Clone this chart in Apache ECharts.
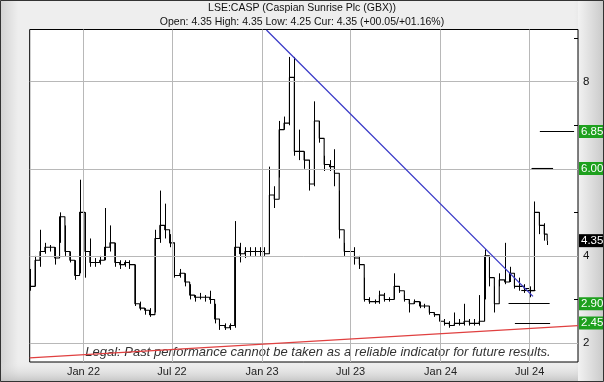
<!DOCTYPE html>
<html><head><meta charset="utf-8">
<script src="https://cdn.jsdelivr.net/npm/echarts@6/dist/echarts.min.js"></script>
<style>html,body{margin:0;padding:0;background:#fff}#c{width:604px;height:382px}</style>
</head><body><div id="c"></div>
<script>
const titleText = 'LSE:CASP (Caspian Sunrise Plc (GBX))';
const subText = 'Open: 4.35 High: 4.35 Low: 4.25 Cur: 4.35 (+00.05/+01.16%)';
const legalText = 'Legal: Past performance cannot be taken as a reliable indicator for future results.';

const dates = ['2021-09-14','2021-09-24','2021-10-04','2021-10-14','2021-10-24','2021-11-03','2021-11-13','2021-11-24','2021-12-04','2021-12-14','2021-12-24',
'2022-01-04','2022-01-14','2022-01-24','2022-02-03','2022-02-13','2022-02-24','2022-03-06','2022-03-16','2022-03-26','2022-04-05','2022-04-16','2022-04-26','2022-05-06','2022-05-16','2022-05-27','2022-06-06','2022-06-16','2022-06-26','2022-07-06','2022-07-17','2022-07-27','2022-08-06','2022-08-16','2022-08-27','2022-09-06','2022-09-16','2022-09-26','2022-10-06','2022-10-17','2022-10-27','2022-11-06','2022-11-16','2022-11-27','2022-12-07','2022-12-17','2022-12-27',
'2023-01-06','2023-01-16','2023-01-26','2023-02-05','2023-02-15','2023-02-26','2023-03-08','2023-03-18','2023-03-28','2023-04-08','2023-04-18','2023-04-28','2023-05-08','2023-05-19','2023-05-29','2023-06-08','2023-06-18','2023-06-29','2023-07-09','2023-07-19','2023-07-29','2023-08-08','2023-08-19','2023-08-29','2023-09-08','2023-09-18','2023-09-28','2023-10-09','2023-10-19','2023-10-29','2023-11-08','2023-11-19','2023-11-29','2023-12-09','2023-12-19','2023-12-30',
'2024-01-09','2024-01-19','2024-01-29','2024-02-08','2024-02-18','2024-02-29','2024-03-10','2024-03-20','2024-03-31','2024-04-10','2024-04-20','2024-04-30','2024-05-11','2024-05-21','2024-05-31','2024-06-10','2024-06-20','2024-07-01','2024-07-11','2024-07-21','2024-07-31','2024-08-06'];
const closes = [3.3,3.9,4.1,4.2,4.2,3.95,4.9,4.1,3.9,3.55,5.0,
4.1,3.85,3.85,3.9,4.2,4.3,3.85,3.8,3.85,3.8,2.9,2.8,2.75,2.65,4.4,4.7,4.6,4.3,3.55,3.6,3.4,3.1,3.05,3.05,3.05,3.0,2.55,2.4,2.35,2.4,4.2,4.05,4.1,4.1,4.1,4.1,
4.05,5.4,5.3,6.9,7.05,8.1,6.4,6.4,6.2,5.65,7.1,6.7,6.1,6.05,5.9,4.6,4.1,4.1,3.95,3.8,3.0,2.95,2.95,3.1,3.0,3.0,3.3,3.2,3.0,2.9,2.95,2.85,2.85,2.7,2.65,2.5,
2.45,2.4,2.45,2.45,2.5,2.45,2.45,2.5,4.0,3.5,2.9,3.45,3.4,3.6,3.3,3.3,3.25,3.2,5.0,4.7,4.5,4.35];
const lows = [3.2,3.3,3.75,4.05,4.1,3.8,4.3,4.0,3.85,3.45,3.6,
3.5,3.75,3.75,3.8,3.9,4.1,3.75,3.7,3.75,3.7,2.85,2.75,2.65,2.6,2.7,4.3,4.4,4.2,3.5,3.5,3.3,3.0,2.95,3.0,2.95,2.9,2.45,2.3,2.3,2.3,2.35,3.85,3.95,4.0,4.0,4.0,
4.0,4.1,5.1,5.8,6.9,7.0,6.3,6.2,6.0,5.5,5.6,6.6,5.95,5.95,5.6,4.4,4.0,2.6,3.8,3.7,2.95,2.9,2.9,2.9,2.95,2.95,3.0,3.15,2.95,2.7,2.9,2.8,2.8,2.65,2.6,2.3,
2.4,2.35,2.4,2.4,2.4,2.4,2.4,2.4,3.0,3.3,2.7,3.3,3.35,3.4,3.25,3.2,3.15,3.05,3.2,4.5,4.35,4.25];
const highs = [3.7,4.0,4.6,4.3,4.25,4.2,5.0,4.7,4.1,3.9,5.75,
5.0,4.4,3.95,4.0,5.1,4.7,4.3,3.9,3.9,3.9,3.8,2.95,2.8,2.8,4.6,5.5,5.2,4.5,4.3,3.7,3.6,3.35,3.1,3.15,3.1,3.2,2.9,2.5,2.45,2.45,4.8,4.3,4.2,4.2,4.2,4.2,
4.2,6.05,5.6,7.1,7.2,8.57,8.57,6.9,6.4,6.0,7.55,7.1,6.3,6.2,6.45,5.5,4.3,4.6,4.2,4.0,3.5,3.05,3.0,3.2,3.15,3.05,3.6,3.3,3.1,3.0,3.0,2.95,2.9,2.85,2.7,2.7,
2.55,2.5,2.7,2.55,2.9,2.55,2.55,3.1,4.15,4.0,3.3,3.6,4.3,3.75,3.45,3.5,3.35,3.3,5.25,5.0,4.75,4.35];

const xRange = ['2021-09-13','2024-10-08'];
const yRange = [1.563, 9.2];
const xLabelDates = ['2022-01-01','2022-07-01','2023-01-01','2023-07-01','2024-01-01','2024-07-01'];
const yTickValues = [2,3,4,5,6,7,8,9];
const yLabelValues = [2,4,8];
const yGridValues = [2,4,6,8];

const blueTrendDates = ['2023-01-10','2024-07-08'];
const blueTrendValues = [9.19, 3.07];
const redTrendDates = ['2021-09-13','2024-10-08'];
const redTrendValues = [1.66, 2.40];

const levelValues = [6.855, 6.007, 2.904, 2.455, 3.22];
const levelFrom = ['2024-07-22','2024-07-05','2024-05-19','2024-06-01','2024-06-14'];
const levelTo = ['2024-09-30','2024-08-18','2024-08-11','2024-08-12','2024-07-13'];

const boxValues = [6.855, 6.007, 2.904, 2.455];
const boxLabels = ['6.855','6.007','2.904','2.455'];
const curValue = 4.35;
const curLabel = '4.35';

const MON = ['Jan','Feb','Mar','Apr','May','Jun','Jul','Aug','Sep','Oct','Nov','Dec'];
const ts = d => Date.parse(d + 'T00:00:00Z');
const FONT = "'Liberation Sans', Arial, sans-serif";

const chart = echarts.init(document.getElementById('c'), null, {renderer: 'canvas'});
const GL = 29.7, GT = 29.5, GR = 26, GB = 20;

const option = {
  animation: false,
  backgroundColor: '#ececec',
  title: [
    {text: titleText, left: 'center', top: 3, padding: 0, textStyle: {fontSize: 10.5, fontWeight: 'normal', color: '#111', fontFamily: FONT}},
    {text: subText, left: 'center', top: 17, padding: 0, textStyle: {fontSize: 10.5, fontWeight: 'normal', color: '#111', fontFamily: FONT}}
  ],
  graphic: [
    {type: 'rect', z: -10, shape: {x: 0, y: 0, width: 604, height: 382}, style: {fill: new echarts.graphic.LinearGradient(0, 0, 1, 0, [{offset: 0, color: '#d2d2d2'}, {offset: 0.03, color: '#eeeeee'}, {offset: 0.95, color: '#eeeeee'}, {offset: 1, color: '#cfcfcf'}])}},
    {type: 'rect', z: -9, shape: {x: 0, y: 362, width: 604, height: 20}, style: {fill: new echarts.graphic.LinearGradient(0, 0, 0, 1, [{offset: 0, color: 'rgba(230,230,230,0)'}, {offset: 1, color: 'rgba(190,190,190,0.9)'}])}},
    {type: 'rect', z: -9, shape: {x: 578, y: 0, width: 26, height: 382}, style: {fill: new echarts.graphic.LinearGradient(0, 0, 1, 0, [{offset: 0, color: '#f2f2f2'}, {offset: 1, color: '#c9c9c9'}])}},
    {type: 'rect', z: 20, shape: {x: 0.5, y: 0.5, width: 603, height: 381}, style: {fill: 'none', stroke: '#333', lineWidth: 1}},
    {type: 'text', z: 1, x: 318, y: 352, style: {text: legalText, font: 'italic 13px ' + FONT, fill: '#333', textAlign: 'center', textVerticalAlign: 'middle'}}
  ],
  grid: {left: GL, top: GT, right: GR, bottom: GB, show: true, backgroundColor: '#fff', borderColor: '#000', borderWidth: 1},
  xAxis: {
    type: 'value', min: ts(xRange[0]), max: ts(xRange[1]),
    axisLine: {show: false}, axisTick: {show: false}, splitLine: {show: false},
    axisLabel: {
      customValues: xLabelDates.map(ts), margin: 4, fontSize: 11, color: '#222', fontFamily: FONT,
      formatter: v => { const d = new Date(v); return MON[d.getUTCMonth()] + ' ' + String(d.getUTCFullYear()).slice(2); }
    }
  },
  yAxis: {
    type: 'value', position: 'right', min: yRange[0], max: yRange[1],
    axisLine: {show: false}, splitLine: {show: false},
    axisTick: {show: true, customValues: yTickValues, inside: true, length: 4, lineStyle: {color: '#000'}},
    axisLabel: {customValues: yLabelValues, margin: 5, fontSize: 11.5, color: '#111', fontFamily: FONT}
  },
  series: [
    {
      name: 'grid', type: 'line', z: 1, data: [[ts(xRange[0]), null]], showSymbol: false, silent: true,
      markLine: {
        silent: true, symbol: ['none', 'none'], label: {show: false}, animation: false,
        lineStyle: {color: '#b8b8b8', type: 'solid', width: 1},
        emphasis: {disabled: true},
        data: yGridValues.map(v => ({yAxis: v})).concat(xLabelDates.map(d => ({xAxis: ts(d)})))
      }
    },
    {
      name: 'range', type: 'custom', z: 3,
      data: dates.map((d, i) => [ts(d), lows[i], highs[i]]),
      encode: {x: 0, y: [1, 2]},
      renderItem: (params, api) => {
        const x = api.value(0);
        const a = api.coord([x, api.value(1)]);
        const b = api.coord([x, api.value(2)]);
        return {type: 'line', shape: {x1: Math.round(a[0]) + 0.5, y1: a[1], x2: Math.round(a[0]) + 0.5, y2: b[1]}, style: {stroke: '#000', lineWidth: 1}};
      }
    },
    {
      name: 'close', type: 'line', z: 3, step: 'end',
      data: dates.map((d, i) => [ts(d), closes[i]]),
      showSymbol: false, lineStyle: {color: '#000', width: 1.1}
    },
    {
      name: 'boxes', type: 'line', z: 10, clip: false, data: [[ts(xRange[0]), null]], silent: true,
      markLine: {
        silent: true, symbol: ['none', 'none'], animation: false,
        emphasis: {disabled: true},
        lineStyle: {color: 'rgba(0,0,0,0)', width: 0},
        label: {show: true, position: 'end', distance: 1, color: '#fff', fontSize: 11.5, fontFamily: FONT, padding: [1, 4, 0, 2], lineHeight: 12},
        data: boxValues.map((v, i) => ({yAxis: v, label: {formatter: boxLabels[i], backgroundColor: '#1ea01e'}}))
          .concat([{yAxis: curValue, label: {formatter: curLabel, backgroundColor: '#000'}}])
      }
    },
    {
      name: 'levels', type: 'line', z: 4, data: [[ts(xRange[0]), null]], silent: true,
      markLine: {
        silent: true, symbol: ['none', 'none'], animation: false, label: {show: false},
        emphasis: {disabled: true},
        lineStyle: {color: '#000', type: 'solid', width: 1.1},
        data: levelValues.map((v, i) => [{coord: [ts(levelFrom[i]), v]}, {coord: [ts(levelTo[i]), v]}])
      }
    },
    {
      name: 'blue', type: 'line', z: 5, silent: true, showSymbol: false,
      data: blueTrendDates.map((d, i) => [ts(d), blueTrendValues[i]]),
      lineStyle: {color: '#3a3ac8', width: 1.3}
    },
    {
      name: 'red', type: 'line', z: 5, silent: true, showSymbol: false,
      data: redTrendDates.map((d, i) => [ts(d), redTrendValues[i]]),
      lineStyle: {color: '#e04040', width: 1.3}
    }
  ]
};
chart.setOption(option);
</script>
</body></html>
